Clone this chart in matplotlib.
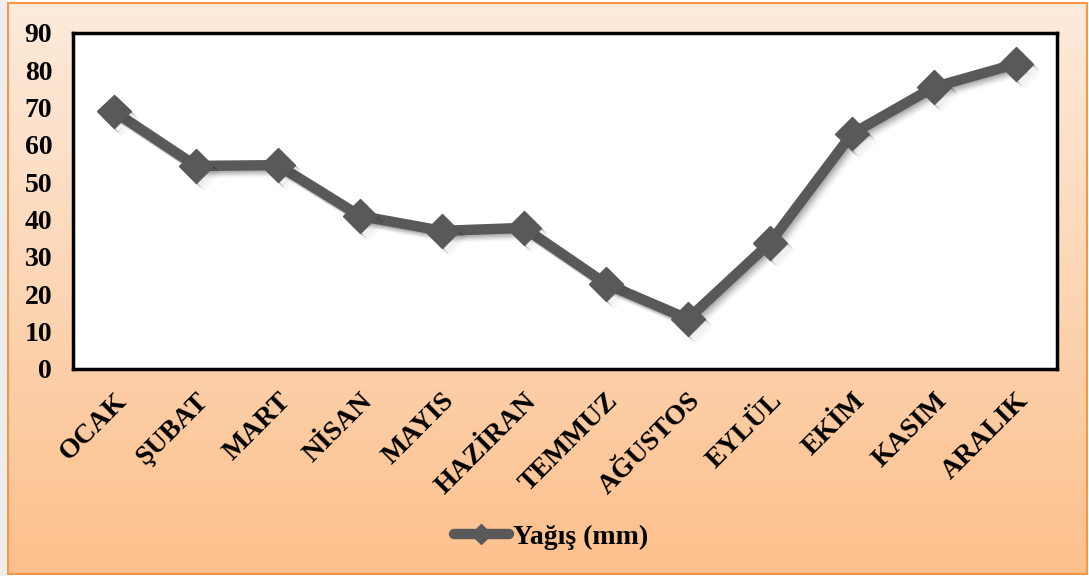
import numpy as np
import matplotlib
matplotlib.use("Agg")
import matplotlib.pyplot as plt
import matplotlib.patheffects as pe
from matplotlib.patches import Rectangle
from matplotlib.lines import Line2D

months = ["OCAK", "ŞUBAT", "MART", "NİSAN", "MAYIS", "HAZİRAN",
          "TEMMUZ", "AĞUSTOS", "EYLÜL", "EKİM", "KASIM", "ARALIK"]
rain_mm = [69.0, 54.4, 54.6, 41.0, 37.0, 37.8, 22.8, 13.4, 33.8, 63.0, 75.5, 81.7]
y_ticks = [0, 10, 20, 30, 40, 50, 60, 70, 80, 90]
series_name = "Yağış (mm)"

W, H, DPI = 1089, 576, 100
plt.rcParams["font.family"] = ["Liberation Serif", "DejaVu Serif"]
plt.rcParams["font.weight"] = "bold"
LINE_C = "#595959"

fig = plt.figure(figsize=(W / DPI, H / DPI), dpi=DPI)
fig.patch.set_facecolor("white")

# gradient chart area background
bg = fig.add_axes([0, 0, 1, 1], zorder=-10)
bg.set_xlim(0, W)
bg.set_ylim(H, 0)
bg.axis("off")
top_c = np.array([253, 235, 220]) / 255
bot_c = np.array([252, 192, 140]) / 255
t = np.linspace(0, 1, 256)[:, None]
grad = top_c[None, :] * (1 - t) + bot_c[None, :] * t
grad = np.repeat(grad[:, None, :], 2, axis=1)
x0, x1, y0, y1 = 8, 1087, 3, 574
bg.imshow(grad, extent=(x0, x1, y1, y0), aspect="auto", interpolation="bilinear")
bg.add_patch(Rectangle((x0, y0), x1 - x0, y1 - y0, fill=False,
                       edgecolor="#F79646", linewidth=1.5))
bg.add_patch(Rectangle((0, 0), x0 - 1, H, color="#EEEEEE", linewidth=0))

ax = fig.add_axes([73 / W, 1 - 369 / H, (1057 - 73) / W, (369 - 33) / H])
ax.set_facecolor("white")
x = np.arange(len(months))

# soft drop shadow built from several faint offset copies
shadow = []
for dx, dy, a in [(1, -1, 0.10), (2, -2, 0.09), (3, -3, 0.07), (4, -4, 0.05), (5, -5, 0.03)]:
    shadow.append(pe.SimpleLineShadow(offset=(dx, dy), shadow_color="black", alpha=a, rho=1))
line, = ax.plot(x, rain_mm, color=LINE_C, linewidth=7.5, marker="D",
                markersize=17, markeredgecolor=LINE_C, label=series_name,
                solid_joinstyle="miter", zorder=3)
line.set_path_effects(shadow + [pe.Normal()])

ax.set_xlim(-0.5, len(months) - 0.5)
ax.set_ylim(0, 90)
ax.set_yticks(y_ticks)
ax.set_yticklabels([str(v) for v in y_ticks], fontsize=20, fontweight="bold")
ax.set_xticks(x)
ax.set_xticklabels(months, fontsize=20, fontweight="bold", rotation=45,
                   ha="right", va="top", rotation_mode="anchor")
ax.tick_params(axis="both", length=0)
ax.tick_params(axis="y", pad=15)
ax.tick_params(axis="x", pad=14)
for s in ax.spines.values():
    s.set_color("black")
    s.set_linewidth(2.5)

handle = Line2D([], [], color=LINE_C, linewidth=7.5, marker="D", markersize=10,
                markeredgecolor=LINE_C, solid_capstyle="round")
leg = fig.legend(handles=[handle], labels=[series_name], loc="center",
                 bbox_to_anchor=(551 / W, 1 - 537 / H), frameon=False,
                 prop={"family": "Liberation Serif", "weight": "bold", "size": 20},
                 handlelength=2.0, handletextpad=0.15)

fig.savefig("out.png", dpi=DPI)
